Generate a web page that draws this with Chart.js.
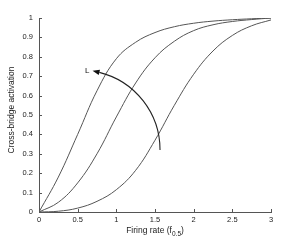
<!DOCTYPE html>
<html>
<head>
<meta charset="utf-8">
<script src="https://cdn.jsdelivr.net/npm/chart.js@4/dist/chart.umd.min.js"></script>
<style>
  html, body { margin: 0; padding: 0; background: #fff; }
  #wrap { width: 300px; height: 240px; position: relative; }
</style>
</head>
<body>
<div id="wrap"><canvas id="c"></canvas></div>
<script>
// firing rate (units of f0.5) and the three activation curves
const rates   = [0, 0.25, 0.5, 0.75, 1, 1.25, 1.5, 1.75, 2, 2.25, 2.5, 2.75, 3];
const longL   = [0, 0.18, 0.40, 0.625, 0.79, 0.875, 0.925, 0.955, 0.973, 0.984, 0.991, 0.996, 1];
const midL    = [0, 0.05, 0.15, 0.30, 0.49, 0.665, 0.795, 0.88, 0.935, 0.965, 0.982, 0.992, 1];
const shortL  = [0, 0.004, 0.02, 0.055, 0.115, 0.215, 0.37, 0.55, 0.71, 0.83, 0.91, 0.96, 0.99];
const xTitle  = ['Firing rate (f', '0.5', ')'];
const yTitle  = 'Cross-bridge activation';
// "L" arrow: elliptic arc in data units, angles in degrees
const arcCenter = [0.53, 0.32];
const arcRadius = [1.035, 0.412];
const arcAngles = [0, -76];
const arrowLabel = 'L';

const FONT = '"Liberation Sans", Arial, Helvetica, sans-serif';
const pts = (ys) => rates.map((x, i) => ({ x, y: ys[i] }));
const curve = (ys) => ({ data: pts(ys), borderColor: '#555', borderWidth: 1, pointRadius: 0, tension: 0.4, fill: false });
const tickText = (v) => String(Math.round(v * 10) / 10);   // 0, 0.1 … 1 like MATLAB

// MATLAB-ish: inward ticks, hand-drawn titles (the x one has a subscript), the L arrow
const decor = {
  id: 'decor',
  afterDatasetsDraw(chart) {
    const { ctx, chartArea: a } = chart, xs = chart.scales.x, ys = chart.scales.y;
    ctx.save();
    ctx.strokeStyle = '#555'; ctx.lineWidth = 1;
    ctx.beginPath();
    xs.ticks.forEach((t) => { const p = Math.round(xs.getPixelForValue(t.value)) + 0.5; ctx.moveTo(p, a.bottom); ctx.lineTo(p, a.bottom - 3); });
    ys.ticks.forEach((t) => { const p = Math.round(ys.getPixelForValue(t.value)) + 0.5; ctx.moveTo(a.left, p); ctx.lineTo(a.left + 3, p); });
    ctx.stroke();

    // arrow arc
    const cx = xs.getPixelForValue(arcCenter[0]), cy = ys.getPixelForValue(arcCenter[1]);
    const rx = Math.abs(xs.getPixelForValue(arcCenter[0] + arcRadius[0]) - cx);
    const ry = Math.abs(ys.getPixelForValue(arcCenter[1] + arcRadius[1]) - cy);
    const a0 = arcAngles[0] * Math.PI / 180, a1 = arcAngles[1] * Math.PI / 180;
    ctx.strokeStyle = '#222'; ctx.lineWidth = 1.1;
    ctx.beginPath(); ctx.ellipse(cx, cy, rx, ry, 0, a0, a1, true); ctx.stroke();
    const ex = cx + rx * Math.cos(a1), ey = cy + ry * Math.sin(a1);
    let dx = rx * Math.sin(a1), dy = -ry * Math.cos(a1);
    const n = Math.hypot(dx, dy); dx /= n; dy /= n;
    const tx = ex + dx * 7, ty = ey + dy * 7;
    ctx.fillStyle = '#111';
    ctx.beginPath(); ctx.moveTo(tx, ty); ctx.lineTo(ex - dy * 2.6, ey + dx * 2.6); ctx.lineTo(ex + dy * 2.6, ey - dx * 2.6); ctx.closePath(); ctx.fill();
    ctx.font = '8px ' + FONT; ctx.textAlign = 'right'; ctx.textBaseline = 'middle';
    ctx.fillText(arrowLabel, tx - 3, ty + 0.5);

    // axis titles
    ctx.fillStyle = '#222';
    ctx.font = '8.5px ' + FONT; ctx.textBaseline = 'alphabetic'; ctx.textAlign = 'left';
    const subFont = '6.5px ' + FONT;
    const w0 = ctx.measureText(xTitle[0]).width, w2 = ctx.measureText(xTitle[2]).width;
    ctx.font = subFont; const w1 = ctx.measureText(xTitle[1]).width;
    let x0 = (a.left + a.right) / 2 - (w0 + w1 + w2) / 2, by = 233;
    ctx.font = '8.5px ' + FONT; ctx.fillText(xTitle[0], x0, by);
    ctx.font = subFont; ctx.fillText(xTitle[1], x0 + w0, by + 3);
    ctx.font = '8.5px ' + FONT; ctx.fillText(xTitle[2], x0 + w0 + w1, by);
    ctx.translate(12, (a.top + a.bottom) / 2 - 5); ctx.rotate(-Math.PI / 2);
    ctx.textAlign = 'center'; ctx.textBaseline = 'middle';
    ctx.fillText(yTitle, 0, 0);
    ctx.restore();
  },
};

new Chart(document.getElementById('c'), {
  type: 'line',
  data: { datasets: [curve(longL), curve(midL), curve(shortL)] },
  options: {
    animation: false, responsive: true, maintainAspectRatio: false,
    layout: { padding: { top: 18, right: 29, left: 0, bottom: 0 } },
    plugins: { legend: { display: false }, tooltip: { enabled: false } },
    scales: {
      x: {
        type: 'linear', min: 0, max: 3,
        ticks: { stepSize: 0.5, padding: 3, color: '#222', font: { family: FONT, size: 7.5 }, maxRotation: 0, callback: tickText },
        grid: { display: false, drawTicks: false },
        border: { display: true, color: '#555', width: 1 },
        afterFit: (s) => { s.height = 28; },
      },
      y: {
        min: 0, max: 1,
        ticks: { stepSize: 0.1, padding: 6, color: '#222', font: { family: FONT, size: 7.5 }, callback: tickText },
        grid: { display: false, drawTicks: false },
        border: { display: true, color: '#555', width: 1 },
        afterFit: (s) => { s.width = 39; },
      },
    },
  },
  plugins: [decor],
});
</script>
</body>
</html>
